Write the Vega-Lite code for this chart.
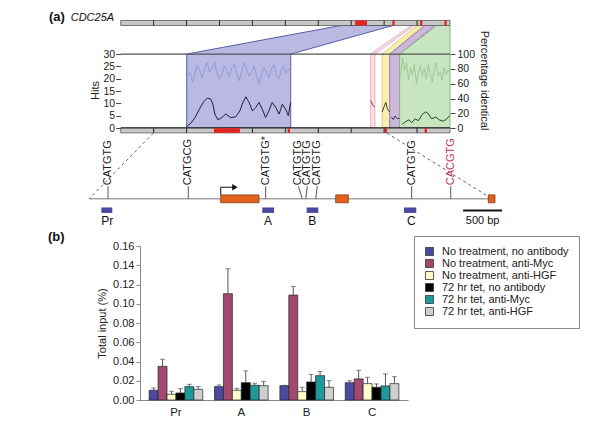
{
  "$schema": "https://vega.github.io/schema/vega-lite/v6.json",
  "background": "white",
  "padding": {"left": 48, "top": 10, "right": 5, "bottom": 2},
  "columns": 1,
  "bounds": "flush",
  "spacing": 19,
  "resolve": {"scale": {"color": "independent"}, "legend": {"color": "independent"}},
  "config": {
    "font": "Liberation Sans",
    "view": {"stroke": null},
    "axis": {"labelFont": "Liberation Sans", "titleFont": "Liberation Sans", "labelColor": "#222", "titleColor": "#222", "titleFontWeight": "normal", "grid": false},
    "legend": {"labelFont": "Liberation Sans"}
  },
  "datasets": {
    "regions": [
      {"region": "blue", "h": 0, "xa": 2.005, "xb": 5.163},
      {"region": "blue", "h": 30, "xa": 2.005, "xb": 5.163},
      {"region": "blue", "h": 41.57, "xa": 6.69, "xb": 8.27},
      {"region": "pink", "h": 0, "xa": 7.59, "xb": 7.72},
      {"region": "pink", "h": 30, "xa": 7.59, "xb": 7.72},
      {"region": "pink", "h": 41.57, "xa": 8.82, "xb": 8.91},
      {"region": "yellow", "h": 0, "xa": 7.94, "xb": 8.17},
      {"region": "yellow", "h": 30, "xa": 7.94, "xb": 8.17},
      {"region": "yellow", "h": 41.57, "xa": 9.0, "xb": 9.18},
      {"region": "purple", "h": 0, "xa": 8.17, "xb": 8.47},
      {"region": "purple", "h": 30, "xa": 8.17, "xb": 8.47},
      {"region": "purple", "h": 41.57, "xa": 9.24, "xb": 9.54},
      {"region": "green", "h": 0, "xa": 8.47, "xb": 10},
      {"region": "green", "h": 30, "xa": 8.47, "xb": 10},
      {"region": "green", "h": 41.57, "xa": 9.6, "xb": 10}
    ],
    "frame": [
      {"line": "top", "u0": 0, "u1": 10, "h": 30},
      {"line": "base", "u0": 0, "u1": 10, "h": 0}
    ],
    "tracks": [
      {"track": "top", "u0": 0, "u1": 10, "h0": 41.57, "h1": 43.6},
      {"track": "bottom", "u0": 0, "u1": 10, "h0": -1.9, "h1": 0}
    ],
    "trackticks": [
      {"track": "top", "u": 1, "h0": 41.57, "h1": 43.6}, {"track": "top", "u": 2, "h0": 41.57, "h1": 43.6},
      {"track": "top", "u": 3, "h0": 41.57, "h1": 43.6}, {"track": "top", "u": 4, "h0": 41.57, "h1": 43.6},
      {"track": "top", "u": 5, "h0": 41.57, "h1": 43.6}, {"track": "top", "u": 6, "h0": 41.57, "h1": 43.6},
      {"track": "top", "u": 7, "h0": 41.57, "h1": 43.6}, {"track": "top", "u": 8, "h0": 41.57, "h1": 43.6},
      {"track": "top", "u": 9, "h0": 41.57, "h1": 43.6},
      {"track": "bottom", "u": 1, "h0": -1.9, "h1": 0}, {"track": "bottom", "u": 2, "h0": -1.9, "h1": 0},
      {"track": "bottom", "u": 3, "h0": -1.9, "h1": 0}, {"track": "bottom", "u": 4, "h0": -1.9, "h1": 0},
      {"track": "bottom", "u": 5, "h0": -1.9, "h1": 0}, {"track": "bottom", "u": 6, "h0": -1.9, "h1": 0},
      {"track": "bottom", "u": 7, "h0": -1.9, "h1": 0}, {"track": "bottom", "u": 8, "h0": -1.9, "h1": 0},
      {"track": "bottom", "u": 9, "h0": -1.9, "h1": 0}
    ],
    "redmarks": [
      {"track": "top", "u0": 7.12, "u1": 7.48, "h0": 41.57, "h1": 43.6},
      {"track": "top", "u0": 8.25, "u1": 8.32, "h0": 41.57, "h1": 43.6},
      {"track": "top", "u0": 9.09, "u1": 9.16, "h0": 41.57, "h1": 43.6},
      {"track": "top", "u0": 9.83, "u1": 9.9, "h0": 41.57, "h1": 43.6},
      {"track": "bottom", "u0": 2.83, "u1": 3.62, "h0": -1.9, "h1": 0},
      {"track": "bottom", "u0": 5.07, "u1": 5.14, "h0": -1.9, "h1": 0},
      {"track": "bottom", "u0": 8.02, "u1": 8.09, "h0": -1.9, "h1": 0},
      {"track": "bottom", "u0": 9.23, "u1": 9.3, "h0": -1.9, "h1": 0}
    ],
    "hits": [
      {"region": "blue", "u": 2.0, "hits": 0.7}, {"region": "blue", "u": 2.13, "hits": 2.0},
      {"region": "blue", "u": 2.26, "hits": 4.3}, {"region": "blue", "u": 2.4, "hits": 8.0},
      {"region": "blue", "u": 2.52, "hits": 10.7}, {"region": "blue", "u": 2.63, "hits": 12.2},
      {"region": "blue", "u": 2.73, "hits": 11.8}, {"region": "blue", "u": 2.8, "hits": 9.7},
      {"region": "blue", "u": 2.86, "hits": 5.7}, {"region": "blue", "u": 2.95, "hits": 3.4},
      {"region": "blue", "u": 3.07, "hits": 4.3}, {"region": "blue", "u": 3.19, "hits": 5.7},
      {"region": "blue", "u": 3.34, "hits": 4.3}, {"region": "blue", "u": 3.49, "hits": 4.6},
      {"region": "blue", "u": 3.62, "hits": 7.0}, {"region": "blue", "u": 3.71, "hits": 10.4},
      {"region": "blue", "u": 3.8, "hits": 12.7}, {"region": "blue", "u": 3.9, "hits": 10.4},
      {"region": "blue", "u": 4.0, "hits": 7.0}, {"region": "blue", "u": 4.1, "hits": 8.4},
      {"region": "blue", "u": 4.2, "hits": 10.4}, {"region": "blue", "u": 4.3, "hits": 7.7},
      {"region": "blue", "u": 4.4, "hits": 4.3}, {"region": "blue", "u": 4.5, "hits": 7.0},
      {"region": "blue", "u": 4.6, "hits": 10.4}, {"region": "blue", "u": 4.71, "hits": 8.4},
      {"region": "blue", "u": 4.81, "hits": 5.7}, {"region": "blue", "u": 4.91, "hits": 9.7},
      {"region": "blue", "u": 5.01, "hits": 7.7}, {"region": "blue", "u": 5.09, "hits": 5.0},
      {"region": "blue", "u": 5.16, "hits": 10.4},
      {"region": "pink", "u": 7.59, "hits": 11.2}, {"region": "pink", "u": 7.66, "hits": 9.2},
      {"region": "pink", "u": 7.72, "hits": 8.5},
      {"region": "yellow", "u": 7.94, "hits": 6.5}, {"region": "yellow", "u": 8.0, "hits": 8.8},
      {"region": "yellow", "u": 8.05, "hits": 10.5}, {"region": "yellow", "u": 8.1, "hits": 7.8},
      {"region": "yellow", "u": 8.17, "hits": 6.5},
      {"region": "purple", "u": 8.22, "hits": 4.5}, {"region": "purple", "u": 8.28, "hits": 3.5},
      {"region": "purple", "u": 8.33, "hits": 4.9}, {"region": "purple", "u": 8.4, "hits": 3.8},
      {"region": "purple", "u": 8.47, "hits": 4.0},
      {"region": "green", "u": 8.55, "hits": 1.6}, {"region": "green", "u": 8.65, "hits": 2.6},
      {"region": "green", "u": 8.75, "hits": 3.4}, {"region": "green", "u": 8.84, "hits": 2.2},
      {"region": "green", "u": 8.94, "hits": 3.8}, {"region": "green", "u": 9.04, "hits": 3.0},
      {"region": "green", "u": 9.16, "hits": 5.6}, {"region": "green", "u": 9.26, "hits": 6.6},
      {"region": "green", "u": 9.34, "hits": 5.9}, {"region": "green", "u": 9.44, "hits": 3.8},
      {"region": "green", "u": 9.57, "hits": 4.5}, {"region": "green", "u": 9.67, "hits": 3.4},
      {"region": "green", "u": 9.79, "hits": 2.8}, {"region": "green", "u": 9.89, "hits": 3.6},
      {"region": "green", "u": 9.99, "hits": 5.1}
    ],
    "pct": [
      {"region": "blue", "u": 2.02, "pct": 70}, {"region": "blue", "u": 2.1, "pct": 75},
      {"region": "blue", "u": 2.18, "pct": 62}, {"region": "blue", "u": 2.25, "pct": 72},
      {"region": "blue", "u": 2.32, "pct": 85}, {"region": "blue", "u": 2.4, "pct": 78},
      {"region": "blue", "u": 2.47, "pct": 68}, {"region": "blue", "u": 2.55, "pct": 80},
      {"region": "blue", "u": 2.62, "pct": 88}, {"region": "blue", "u": 2.7, "pct": 76},
      {"region": "blue", "u": 2.78, "pct": 82}, {"region": "blue", "u": 2.85, "pct": 90},
      {"region": "blue", "u": 2.92, "pct": 74}, {"region": "blue", "u": 3.0, "pct": 66},
      {"region": "blue", "u": 3.08, "pct": 72}, {"region": "blue", "u": 3.15, "pct": 84},
      {"region": "blue", "u": 3.22, "pct": 78}, {"region": "blue", "u": 3.3, "pct": 70},
      {"region": "blue", "u": 3.38, "pct": 82}, {"region": "blue", "u": 3.45, "pct": 86},
      {"region": "blue", "u": 3.52, "pct": 74}, {"region": "blue", "u": 3.6, "pct": 64},
      {"region": "blue", "u": 3.68, "pct": 78}, {"region": "blue", "u": 3.75, "pct": 88},
      {"region": "blue", "u": 3.82, "pct": 80}, {"region": "blue", "u": 3.9, "pct": 70},
      {"region": "blue", "u": 3.98, "pct": 76}, {"region": "blue", "u": 4.05, "pct": 84},
      {"region": "blue", "u": 4.12, "pct": 72}, {"region": "blue", "u": 4.2, "pct": 60},
      {"region": "blue", "u": 4.28, "pct": 74}, {"region": "blue", "u": 4.35, "pct": 82},
      {"region": "blue", "u": 4.42, "pct": 76}, {"region": "blue", "u": 4.5, "pct": 68},
      {"region": "blue", "u": 4.58, "pct": 80}, {"region": "blue", "u": 4.65, "pct": 86},
      {"region": "blue", "u": 4.72, "pct": 72}, {"region": "blue", "u": 4.8, "pct": 66},
      {"region": "blue", "u": 4.88, "pct": 78}, {"region": "blue", "u": 4.95, "pct": 84},
      {"region": "blue", "u": 5.02, "pct": 74}, {"region": "blue", "u": 5.1, "pct": 80},
      {"region": "blue", "u": 5.16, "pct": 76},
      {"region": "green", "u": 8.5, "pct": 70}, {"region": "green", "u": 8.56, "pct": 95},
      {"region": "green", "u": 8.62, "pct": 78}, {"region": "green", "u": 8.68, "pct": 88},
      {"region": "green", "u": 8.74, "pct": 65}, {"region": "green", "u": 8.8, "pct": 82},
      {"region": "green", "u": 8.86, "pct": 72}, {"region": "green", "u": 8.92, "pct": 86},
      {"region": "green", "u": 8.98, "pct": 60}, {"region": "green", "u": 9.04, "pct": 75},
      {"region": "green", "u": 9.1, "pct": 84}, {"region": "green", "u": 9.16, "pct": 70},
      {"region": "green", "u": 9.22, "pct": 80}, {"region": "green", "u": 9.28, "pct": 66},
      {"region": "green", "u": 9.34, "pct": 86}, {"region": "green", "u": 9.4, "pct": 74},
      {"region": "green", "u": 9.46, "pct": 62}, {"region": "green", "u": 9.52, "pct": 80},
      {"region": "green", "u": 9.58, "pct": 88}, {"region": "green", "u": 9.64, "pct": 70},
      {"region": "green", "u": 9.7, "pct": 76}, {"region": "green", "u": 9.76, "pct": 64},
      {"region": "green", "u": 9.82, "pct": 82}, {"region": "green", "u": 9.88, "pct": 72},
      {"region": "green", "u": 9.94, "pct": 78}, {"region": "green", "u": 9.98, "pct": 74}
    ],
    "gene": [{"start": 0, "end": 5170}],
    "zoomlines": [{"top": 825, "bottom": 0}, {"top": 3823, "bottom": 5170}],
    "sites": [
      {"motif": "CATGTG", "lab": 244, "site": 244},
      {"motif": "CATGCG", "lab": 1274, "site": 1274},
      {"motif": "CATGTG*", "lab": 2267, "site": 2267},
      {"motif": "CATGTG", "lab": 2685, "site": 2737},
      {"motif": "CATGTG", "lab": 2801, "site": 2780},
      {"motif": "CATGTG", "lab": 2929, "site": 2909},
      {"motif": "CATGTG", "lab": 4140, "site": 4140},
      {"motif": "CACGTG", "lab": 4641, "site": 4641}
    ],
    "exons": [
      {"exon": 1, "start": 1690, "end": 2181},
      {"exon": 2, "start": 3165, "end": 3327},
      {"exon": 3, "start": 5123, "end": 5209}
    ],
    "tss": [{"pos": 1690, "arrowEnd": 1850, "head": 1872}],
    "amplicons": [
      {"name": "Pr", "start": 158, "end": 299, "mid": 235},
      {"name": "A", "start": 2223, "end": 2374, "mid": 2297},
      {"name": "B", "start": 2793, "end": 2942, "mid": 2865},
      {"name": "C", "start": 4041, "end": 4199, "mid": 4135}
    ],
    "scalebar": [{"start": 4800, "end": 5300, "mid": 5050, "label": "500 bp"}],
    "genename": [{"pos": -235, "h": 43.3, "label": "CDC25A"}],
    "panellabels": [{"label": "(a)", "pos": -513, "h": 43.4}, {"label": "(b)", "pos": -526, "h": -45.7}],
    "chip": [
      {"site": "Pr", "cond": "No treatment, no antibody", "v": 0.0101, "up": 0.0125},
      {"site": "Pr", "cond": "No treatment, anti-Myc", "v": 0.035, "up": 0.0423},
      {"site": "Pr", "cond": "No treatment, anti-HGF", "v": 0.0059, "up": 0.009},
      {"site": "Pr", "cond": "72 hr tet, no antibody", "v": 0.0073, "up": 0.0118},
      {"site": "Pr", "cond": "72 hr tet, anti-Myc", "v": 0.0139, "up": 0.0163},
      {"site": "Pr", "cond": "72 hr tet, anti-HGF", "v": 0.0111, "up": 0.0139},
      {"site": "A", "cond": "No treatment, no antibody", "v": 0.0139, "up": 0.0156},
      {"site": "A", "cond": "No treatment, anti-Myc", "v": 0.1104, "up": 0.1364},
      {"site": "A", "cond": "No treatment, anti-HGF", "v": 0.0101, "up": 0.0121},
      {"site": "A", "cond": "72 hr tet, no antibody", "v": 0.018, "up": 0.0302},
      {"site": "A", "cond": "72 hr tet, anti-Myc", "v": 0.0153, "up": 0.0174},
      {"site": "A", "cond": "72 hr tet, anti-HGF", "v": 0.0149, "up": 0.0194},
      {"site": "B", "cond": "No treatment, no antibody", "v": 0.0149, "up": 0.0153},
      {"site": "B", "cond": "No treatment, anti-Myc", "v": 0.109, "up": 0.118},
      {"site": "B", "cond": "No treatment, anti-HGF", "v": 0.0087, "up": 0.0132},
      {"site": "B", "cond": "72 hr tet, no antibody", "v": 0.0187, "up": 0.0267},
      {"site": "B", "cond": "72 hr tet, anti-Myc", "v": 0.0253, "up": 0.0295},
      {"site": "B", "cond": "72 hr tet, anti-HGF", "v": 0.0132, "up": 0.0201},
      {"site": "C", "cond": "No treatment, no antibody", "v": 0.018, "up": 0.0201},
      {"site": "C", "cond": "No treatment, anti-Myc", "v": 0.0219, "up": 0.0309},
      {"site": "C", "cond": "No treatment, anti-HGF", "v": 0.017, "up": 0.0236},
      {"site": "C", "cond": "72 hr tet, no antibody", "v": 0.0132, "up": 0.0167},
      {"site": "C", "cond": "72 hr tet, anti-Myc", "v": 0.0146, "up": 0.0271},
      {"site": "C", "cond": "72 hr tet, anti-HGF", "v": 0.017, "up": 0.0243}
    ]
  },
  "concat": [
    {
      "width": 310,
      "height": 210,
      "layer": [
        {
          "data": {"name": "regions"},
          "mark": {"type": "area", "orient": "horizontal", "strokeWidth": 1, "fillOpacity": 1},
          "encoding": {
            "y": {"field": "h", "type": "quantitative", "scale": {"domain": [-40, 45], "nice": false, "zero": false}, "axis": null},
            "x": {"field": "xa", "type": "quantitative", "stack": null, "scale": {"domain": [0.586, 10], "nice": false, "zero": false}, "axis": null},
            "x2": {"field": "xb"},
            "detail": {"field": "region"},
            "fill": {"field": "region", "type": "nominal", "legend": null, "scale": {"domain": ["blue", "pink", "yellow", "purple", "green"], "range": ["#b9b9e2", "#f7e1e7", "#f7efb2", "#cdb8dc", "#c8e5c2"]}},
            "stroke": {"field": "region", "type": "nominal", "legend": null, "scale": {"domain": ["blue", "pink", "yellow", "purple", "green"], "range": ["#5c5caa", "#e7b2c3", "#e3cf66", "#9a7ab6", "#86b580"]}}
          }
        },
        {
          "data": {"name": "frame"},
          "transform": [{"filter": "datum.line === 'top'"}],
          "mark": {"type": "rule", "color": "#555", "strokeWidth": 1.3},
          "encoding": {
            "x": {"field": "u0", "type": "quantitative", "axis": null, "scale": {"domain": [0.586, 10], "nice": false, "zero": false}},
            "x2": {"field": "u1"},
            "y": {"field": "h", "type": "quantitative", "axis": null, "scale": {"domain": [-40, 45], "nice": false, "zero": false}}
          }
        },
        {
          "data": {"name": "hits"},
          "mark": {"type": "line", "strokeWidth": 1},
          "encoding": {
            "x": {"field": "u", "type": "quantitative", "axis": null, "scale": {"domain": [0.586, 10], "nice": false, "zero": false}},
            "y": {"field": "hits", "type": "quantitative", "scale": {"domain": [-40, 45], "nice": false, "zero": false}, "axis": {"title": "Hits", "orient": "left", "offset": 19.3, "values": [0, 5, 10, 15, 20, 25, 30], "domain": false, "tickSize": 5, "tickColor": "#444", "labelPadding": 1, "labelFontSize": 10.5, "titleFontSize": 11, "titlePadding": 3, "titleY": 73}},
            "color": {"field": "region", "type": "nominal", "legend": null, "scale": {"domain": ["blue", "pink", "yellow", "purple", "green"], "range": ["#1e1e3c", "#6a4050", "#403c28", "#3c2c4c", "#284828"]}}
          }
        },
        {
          "data": {"name": "pct"},
          "mark": {"type": "line", "strokeWidth": 0.9},
          "encoding": {
            "x": {"field": "u", "type": "quantitative", "axis": null, "scale": {"domain": [0.586, 10], "nice": false, "zero": false}},
            "y": {"field": "pct", "type": "quantitative", "scale": {"domain": [-133.33, 150], "nice": false, "zero": false}, "axis": {"title": "Percentage identical", "orient": "right", "values": [0, 20, 40, 60, 80, 100], "domain": false, "tickSize": 5, "tickColor": "#444", "labelPadding": 2, "labelFontSize": 10.5, "titleFontSize": 11, "titlePadding": 4, "titleY": 63}},
            "color": {"field": "region", "type": "nominal", "legend": null, "scale": {"domain": ["blue", "green"], "range": ["#9494d8", "#98c692"]}}
          }
        },
        {
          "data": {"name": "frame"},
          "transform": [{"filter": "datum.line === 'base'"}],
          "mark": {"type": "rule", "color": "#111", "strokeWidth": 2},
          "encoding": {
            "x": {"field": "u0", "type": "quantitative", "axis": null, "scale": {"domain": [0.586, 10], "nice": false, "zero": false}},
            "x2": {"field": "u1"},
            "y": {"field": "h", "type": "quantitative", "axis": null, "scale": {"domain": [-40, 45], "nice": false, "zero": false}}
          }
        },
        {
          "data": {"name": "tracks"},
          "mark": {"type": "rect", "fill": "#c8c8c8", "stroke": "#555", "strokeWidth": 0.8},
          "encoding": {
            "x": {"field": "u0", "type": "quantitative", "axis": null, "scale": {"domain": [0.586, 10], "nice": false, "zero": false}},
            "x2": {"field": "u1"},
            "y": {"field": "h0", "type": "quantitative", "axis": null, "scale": {"domain": [-40, 45], "nice": false, "zero": false}},
            "y2": {"field": "h1"}
          }
        },
        {
          "data": {"name": "trackticks"},
          "mark": {"type": "rule", "color": "#222", "strokeWidth": 1},
          "encoding": {
            "x": {"field": "u", "type": "quantitative", "axis": null, "scale": {"domain": [0.586, 10], "nice": false, "zero": false}},
            "y": {"field": "h0", "type": "quantitative", "axis": null, "scale": {"domain": [-40, 45], "nice": false, "zero": false}},
            "y2": {"field": "h1"}
          }
        },
        {
          "data": {"name": "redmarks"},
          "mark": {"type": "rect", "fill": "#e3231f"},
          "encoding": {
            "x": {"field": "u0", "type": "quantitative", "axis": null, "scale": {"domain": [0.586, 10], "nice": false, "zero": false}},
            "x2": {"field": "u1"},
            "y": {"field": "h0", "type": "quantitative", "axis": null, "scale": {"domain": [-40, 45], "nice": false, "zero": false}},
            "y2": {"field": "h1"}
          }
        },
        {
          "data": {"name": "zoomlines"},
          "mark": {"type": "rule", "color": "#666", "strokeWidth": 1, "strokeDash": [3, 3]},
          "encoding": {
            "x": {"field": "top", "type": "quantitative", "axis": null, "scale": {"domain": [654.3, 4631.7], "nice": false, "zero": false}},
            "x2": {"field": "bottom"},
            "y": {"datum": -2.0, "type": "quantitative", "axis": null, "scale": {"domain": [-40, 45], "nice": false, "zero": false}},
            "y2": {"datum": -28.6}
          }
        },
        {
          "data": {"name": "gene"},
          "mark": {"type": "rule", "color": "#777", "strokeWidth": 1},
          "encoding": {
            "x": {"field": "start", "type": "quantitative", "axis": null, "scale": {"domain": [654.3, 4631.7], "nice": false, "zero": false}},
            "x2": {"field": "end"},
            "y": {"datum": -28.6, "type": "quantitative", "axis": null, "scale": {"domain": [-40, 45], "nice": false, "zero": false}}
          }
        },
        {
          "data": {"name": "sites"},
          "mark": {"type": "rule", "color": "#555", "strokeWidth": 1},
          "encoding": {
            "x": {"field": "lab", "type": "quantitative", "axis": null, "scale": {"domain": [654.3, 4631.7], "nice": false, "zero": false}},
            "x2": {"field": "site"},
            "y": {"datum": -23.5, "type": "quantitative", "axis": null, "scale": {"domain": [-40, 45], "nice": false, "zero": false}},
            "y2": {"datum": -28.6}
          }
        },
        {
          "data": {"name": "sites"},
          "mark": {"type": "text", "angle": 270, "align": "left", "baseline": "middle", "fontSize": 11},
          "encoding": {
            "x": {"field": "lab", "type": "quantitative", "axis": null, "scale": {"domain": [654.3, 4631.7], "nice": false, "zero": false}},
            "y": {"datum": -23.1, "type": "quantitative", "axis": null, "scale": {"domain": [-40, 45], "nice": false, "zero": false}},
            "text": {"field": "motif"},
            "color": {"field": "motif", "type": "nominal", "legend": null, "scale": {"domain": ["CATGTG", "CATGCG", "CATGTG*", "CACGTG"], "range": ["#1a1a1a", "#1a1a1a", "#1a1a1a", "#c2335e"]}}
          }
        },
        {
          "data": {"name": "tss"},
          "mark": {"type": "rule", "color": "#111", "strokeWidth": 1},
          "encoding": {
            "x": {"field": "pos", "type": "quantitative", "axis": null, "scale": {"domain": [654.3, 4631.7], "nice": false, "zero": false}},
            "y": {"datum": -27.0, "type": "quantitative", "axis": null, "scale": {"domain": [-40, 45], "nice": false, "zero": false}},
            "y2": {"datum": -23.9}
          }
        },
        {
          "data": {"name": "tss"},
          "mark": {"type": "rule", "color": "#111", "strokeWidth": 1},
          "encoding": {
            "x": {"field": "pos", "type": "quantitative", "axis": null, "scale": {"domain": [654.3, 4631.7], "nice": false, "zero": false}},
            "x2": {"field": "arrowEnd"},
            "y": {"datum": -23.9, "type": "quantitative", "axis": null, "scale": {"domain": [-40, 45], "nice": false, "zero": false}}
          }
        },
        {
          "data": {"name": "tss"},
          "mark": {"type": "point", "shape": "triangle-right", "filled": true, "color": "#111", "size": 40, "opacity": 1},
          "encoding": {
            "x": {"field": "head", "type": "quantitative", "axis": null, "scale": {"domain": [654.3, 4631.7], "nice": false, "zero": false}},
            "y": {"datum": -23.9, "type": "quantitative", "axis": null, "scale": {"domain": [-40, 45], "nice": false, "zero": false}}
          }
        },
        {
          "data": {"name": "exons"},
          "mark": {"type": "rect", "fill": "#e2611f", "stroke": "#8c3a12", "strokeWidth": 0.8},
          "encoding": {
            "x": {"field": "start", "type": "quantitative", "axis": null, "scale": {"domain": [654.3, 4631.7], "nice": false, "zero": false}},
            "x2": {"field": "end"},
            "y": {"datum": -27.0, "type": "quantitative", "axis": null, "scale": {"domain": [-40, 45], "nice": false, "zero": false}},
            "y2": {"datum": -30.2}
          }
        },
        {
          "data": {"name": "amplicons"},
          "mark": {"type": "rect", "fill": "#4b47a0"},
          "encoding": {
            "x": {"field": "start", "type": "quantitative", "axis": null, "scale": {"domain": [654.3, 4631.7], "nice": false, "zero": false}},
            "x2": {"field": "end"},
            "y": {"datum": -32.1, "type": "quantitative", "axis": null, "scale": {"domain": [-40, 45], "nice": false, "zero": false}},
            "y2": {"datum": -34.3}
          }
        },
        {
          "data": {"name": "amplicons"},
          "mark": {"type": "text", "fontSize": 12, "baseline": "middle", "align": "center", "color": "#111"},
          "encoding": {
            "x": {"field": "mid", "type": "quantitative", "axis": null, "scale": {"domain": [654.3, 4631.7], "nice": false, "zero": false}},
            "y": {"datum": -37.6, "type": "quantitative", "axis": null, "scale": {"domain": [-40, 45], "nice": false, "zero": false}},
            "text": {"field": "name"}
          }
        },
        {
          "data": {"name": "scalebar"},
          "mark": {"type": "rule", "color": "#111", "strokeWidth": 2},
          "encoding": {
            "x": {"field": "start", "type": "quantitative", "axis": null, "scale": {"domain": [654.3, 4631.7], "nice": false, "zero": false}},
            "x2": {"field": "end"},
            "y": {"datum": -33.3, "type": "quantitative", "axis": null, "scale": {"domain": [-40, 45], "nice": false, "zero": false}}
          }
        },
        {
          "data": {"name": "scalebar"},
          "mark": {"type": "text", "fontSize": 11, "baseline": "middle", "align": "center", "color": "#111"},
          "encoding": {
            "x": {"field": "mid", "type": "quantitative", "axis": null, "scale": {"domain": [654.3, 4631.7], "nice": false, "zero": false}},
            "y": {"datum": -37.6, "type": "quantitative", "axis": null, "scale": {"domain": [-40, 45], "nice": false, "zero": false}},
            "text": {"field": "label"}
          }
        },
        {
          "data": {"name": "genename"},
          "mark": {"type": "text", "fontSize": 11, "fontStyle": "italic", "baseline": "alphabetic", "align": "left", "color": "#111"},
          "encoding": {
            "x": {"field": "pos", "type": "quantitative", "axis": null, "scale": {"domain": [654.3, 4631.7], "nice": false, "zero": false}},
            "y": {"field": "h", "type": "quantitative", "axis": null, "scale": {"domain": [-40, 45], "nice": false, "zero": false}},
            "text": {"field": "label"}
          }
        },
        {
          "data": {"name": "panellabels"},
          "mark": {"type": "text", "fontSize": 13, "fontWeight": "bold", "baseline": "alphabetic", "align": "left", "color": "#111"},
          "encoding": {
            "x": {"field": "pos", "type": "quantitative", "axis": null, "scale": {"domain": [654.3, 4631.7], "nice": false, "zero": false}},
            "y": {"field": "h", "type": "quantitative", "axis": null, "scale": {"domain": [-40, 45], "nice": false, "zero": false}},
            "text": {"field": "label"}
          }
        }
      ],
      "resolve": {"scale": {"x": "independent", "y": "independent", "color": "independent", "fill": "independent", "stroke": "independent"}}
    },
    {
      "width": 268,
      "height": 154,
      "data": {"name": "chip"},
      "encoding": {
        "x": {"field": "site", "type": "nominal", "sort": ["Pr", "A", "B", "C"], "scale": {"paddingInner": 0.18, "paddingOuter": 0.14}, "axis": {"title": null, "labelAngle": 0, "ticks": false, "labelPadding": 6, "labelFontSize": 11.5, "domainColor": "#888"}},
        "xOffset": {"field": "cond", "type": "nominal", "sort": ["No treatment, no antibody", "No treatment, anti-Myc", "No treatment, anti-HGF", "72 hr tet, no antibody", "72 hr tet, anti-Myc", "72 hr tet, anti-HGF"], "scale": {"paddingInner": 0, "paddingOuter": 0}}
      },
      "layer": [
        {
          "mark": {"type": "bar", "stroke": "#222", "strokeWidth": 0.7},
          "encoding": {
            "y": {"field": "v", "type": "quantitative", "stack": null, "scale": {"domain": [0, 0.16], "nice": false}, "axis": {"title": "Total input (%)", "titleFontSize": 11, "labelFontSize": 11, "values": [0, 0.02, 0.04, 0.06, 0.08, 0.1, 0.12, 0.14, 0.16], "format": ".2f", "domainColor": "#888", "tickColor": "#888", "tickSize": 4, "labelPadding": 2, "titlePadding": 5}},
            "color": {"field": "cond", "type": "nominal", "scale": {"domain": ["No treatment, no antibody", "No treatment, anti-Myc", "No treatment, anti-HGF", "72 hr tet, no antibody", "72 hr tet, anti-Myc", "72 hr tet, anti-HGF"], "range": ["#4c4a9e", "#a3486e", "#ffffcc", "#000000", "#1f9a9c", "#cfcfcf"]}, "legend": {"title": null, "orient": "none", "legendX": 274, "legendY": -10, "strokeColor": "#888", "fillColor": "white", "padding": 10, "labelFontSize": 11, "labelColor": "#222", "symbolType": "square", "symbolSize": 64, "symbolStrokeColor": "#333", "symbolStrokeWidth": 0.8, "symbolOpacity": 1, "rowPadding": -1.5, "labelOffset": 7, "labelLimit": 220}}
          }
        },
        {
          "mark": {"type": "rule", "color": "#555", "strokeWidth": 1},
          "encoding": {
            "y": {"field": "v", "type": "quantitative", "stack": null, "scale": {"domain": [0, 0.16], "nice": false}, "axis": {"title": "Total input (%)", "titleFontSize": 11, "labelFontSize": 11, "values": [0, 0.02, 0.04, 0.06, 0.08, 0.1, 0.12, 0.14, 0.16], "format": ".2f", "domainColor": "#888", "tickColor": "#888", "tickSize": 4, "labelPadding": 2, "titlePadding": 5}},
            "y2": {"field": "up"}
          }
        },
        {
          "mark": {"type": "tick", "color": "#555", "size": 5, "thickness": 1},
          "encoding": {
            "y": {"field": "up", "type": "quantitative", "scale": {"domain": [0, 0.16], "nice": false}, "axis": {"title": "Total input (%)", "titleFontSize": 11, "labelFontSize": 11, "values": [0, 0.02, 0.04, 0.06, 0.08, 0.1, 0.12, 0.14, 0.16], "format": ".2f", "domainColor": "#888", "tickColor": "#888", "tickSize": 4, "labelPadding": 2, "titlePadding": 5}}
          }
        }
      ]
    }
  ]
}
